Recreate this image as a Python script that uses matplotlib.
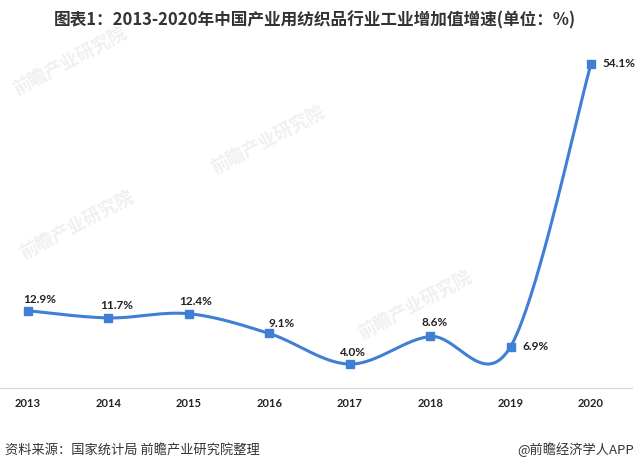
import numpy as np
import matplotlib
matplotlib.use("Agg")
import matplotlib.pyplot as plt

# data
years = ["2013", "2014", "2015", "2016", "2017", "2018", "2019", "2020"]
growth = [12.9, 11.7, 12.4, 9.1, 4.0, 8.6, 6.9, 54.1]
labels = ["12.9%", "11.7%", "12.4%", "9.1%", "4.0%", "8.6%", "6.9%", "54.1%"]

title = "图表1：2013-2020年中国产业用纺织品行业工业增加值增速(单位：%)"
source = "资料来源：国家统计局 前瞻产业研究院整理"
brand = "@前瞻经济学人APP"

plt.rcParams['font.family'] = ['Noto Sans CJK SC', 'DejaVu Sans']

blue = '#3f7fd6'


def smooth(x, y, n=40):
    # Excel-like smoothed line (Catmull-Rom as cubic bezier)
    x = np.asarray(x, float)
    y = np.asarray(y, float)
    px = np.concatenate([[x[0]], x, [x[-1]]])
    py = np.concatenate([[y[0]], y, [y[-1]]])
    xs, ys = [], []
    t = np.linspace(0, 1, n)
    for i in range(len(x) - 1):
        p0 = np.array([px[i + 1], py[i + 1]])
        p3 = np.array([px[i + 2], py[i + 2]])
        c1 = p0 + (np.array([px[i + 2], py[i + 2]]) - np.array([px[i], py[i]])) / 6
        c2 = p3 - (np.array([px[i + 3], py[i + 3]]) - np.array([px[i + 1], py[i + 1]])) / 6
        b = ((1 - t) ** 3)[:, None] * p0 + (3 * (1 - t) ** 2 * t)[:, None] * c1 \
            + (3 * (1 - t) * t ** 2)[:, None] * c2 + (t ** 3)[:, None] * p3
        xs.extend(b[:, 0])
        ys.extend(b[:, 1])
    return np.array(xs), np.array(ys)


fig = plt.figure(figsize=(6.39, 4.70), dpi=100)
ax = fig.add_axes([0, 82 / 470, 632 / 639, 359.4 / 470])

idx = np.arange(len(years))
sx, sy = smooth(idx, growth)
ax.plot(sx, sy, color=blue, lw=2.2, zorder=3, solid_capstyle='round')
ax.plot(idx, growth, 's', color=blue, ms=5.5, zorder=4)

# label offsets in pixels (layout only)
offs = [(12, 11), (8, 12), (7, 12), (12, 10), (2, 12), (4, 14), (25, 0), (28, 0)]
for i, (lab, (dx, dy)) in enumerate(zip(labels, offs)):
    ax.annotate(lab, (idx[i], growth[i]), xytext=(dx * 0.72, dy * 0.72),
                textcoords='offset points', ha='center', va='center',
                fontsize=8.5, fontweight='bold', color='#222222',
                family=['Lato', 'DejaVu Sans'], zorder=5)

ax.set_xlim(-0.348, 7.51)
ax.set_ylim(0, 60)
ax.set_xticks(idx)
ax.set_xticklabels(years, fontsize=8, fontweight='bold', color='#222222',
                   family=['Lato', 'DejaVu Sans'])
ax.set_yticks([])
ax.tick_params(axis='x', length=0, pad=7)
for s in ['top', 'right', 'left']:
    ax.spines[s].set_visible(False)
ax.spines['bottom'].set_color('#d9d9d9')
ax.spines['bottom'].set_linewidth(1.0)
ax.patch.set_alpha(0)

# faint watermarks
for (wx, wy) in [(0.11, 0.87), (0.42, 0.70), (0.12, 0.52), (0.65, 0.35)]:
    fig.text(wx, wy, "前瞻产业研究院", fontsize=13, color='#f0f0f0',
             rotation=28, ha='center', va='center', fontweight='bold', zorder=0)

fig.text(0.492, 0.957, title, fontsize=12, fontweight='bold', color='#333333',
         ha='center', va='center')
fig.text(0.008, 0.043, source, fontsize=9.5, color='#333333', ha='left', va='center')
fig.text(0.992, 0.043, brand, fontsize=9.5, color='#333333', ha='right', va='center')

fig.savefig('out.png', dpi=100)
